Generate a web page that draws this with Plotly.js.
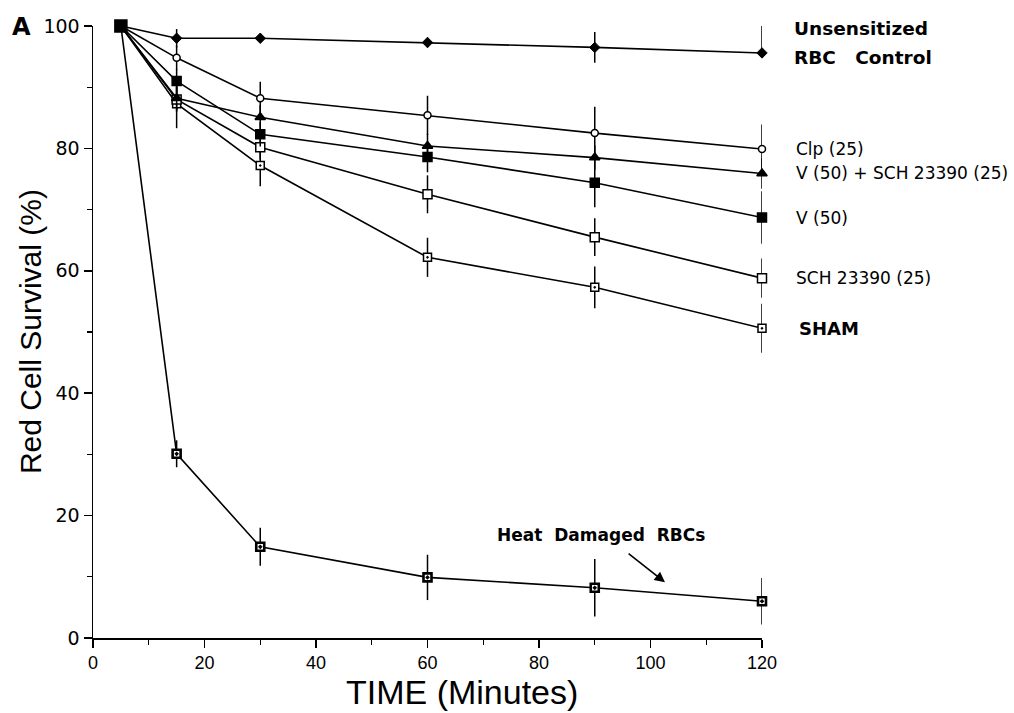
<!DOCTYPE html>
<html>
<head>
<meta charset="utf-8">
<script src="https://cdn.plot.ly/plotly-3.0.1.min.js"></script>
<style>html,body{margin:0;padding:0;background:#fff;}#chart{width:1014px;height:713px;}</style>
</head>
<body>
<div id="chart"></div>
<script>
// ---- data ----
const time = [5, 15, 30, 60, 90, 120];
const unsensitized = [100, 98.0, 98.0, 97.3, 96.5, 95.6];
const clp25 = [100, 94.8, 88.2, 85.4, 82.5, 79.9];
const v50sch25 = [100, 88.2, 85.1, 80.4, 78.5, 75.9];
const v50 = [100, 91.0, 82.3, 78.6, 74.4, 68.7];
const sch25 = [100, 88.0, 80.2, 72.5, 65.5, 58.8];
const sham = [100, 87.3, 77.2, 62.2, 57.3, 50.6];
const heatDamaged = [100, 30.1, 14.9, 9.9, 8.2, 6.0];

const unsensErrPlus = [0, 1.5, 0, 0.8, 2.5, 4.8];
const unsensErrMinus = [0, 1.5, 0, 0.8, 2.5, 0];
const clpErr = [0, 2, 2.7, 3.2, 4.3, 4.0];
const vschErr = [0, 2, 2, 2, 2, 2.5];
const v50Err = [0, 2, 2, 2.5, 4, 4.3];
const schErr = [0, 2, 2, 3.1, 3.1, 3.2];
const shamErr = [0, 4, 3.4, 3.2, 3.4, 4.0];
const heatErr = [0, 2.2, 3.1, 3.7, 4.7, 3.8];

const seriesLabels = ["Unsensitized", "RBC   Control", "Clp (25)", "V (50) + SCH 23390 (25)", "V (50)", "SCH 23390 (25)", "SHAM"];
const xTicks = [0, 20, 40, 60, 80, 100, 120];
const yTicks = [0, 20, 40, 60, 80, 100];

// ---- traces ----
function tr(y, errPlus, errMinus, symbol, size, fill, lw) {
  return {
    x: time, y: y, type: 'scatter', mode: 'lines+markers', cliponaxis: false,
    line: {color: '#000', width: 1.6},
    marker: {symbol: symbol, size: size, color: fill, opacity: 1, line: {color: '#000', width: lw || 1.5}},
    error_y: {type: 'data', symmetric: errMinus ? false : true, array: errPlus, arrayminus: errMinus || undefined,
              color: '#000', thickness: 1.5, width: 0},
    showlegend: false, hoverinfo: 'x+y'
  };
}
const traces = [
  tr(heatDamaged, heatErr, null, 'square-dot', 8, '#fff', 2.6),
  tr(sham, shamErr, null, 'square-dot', 8, '#fff', 1.5),
  tr(sch25, schErr, null, 'square', 9, '#fff', 1.5),
  tr(v50, v50Err, null, 'square', [12, 9, 9, 9, 9, 9], '#000', 1.5),
  tr(v50sch25, vschErr, null, 'triangle-up', 9, '#000', 1.5),
  tr(clp25, clpErr, null, 'circle', 7, '#fff', 1.5),
  tr(unsensitized, unsensErrPlus, unsensErrMinus, 'diamond', 8, '#000', 1)
];

const labelY = [unsensitized[5], unsensitized[5], clp25[5], v50sch25[5], v50[5], sch25[5], sham[5]];
const labelShift = [[0, 24], [0, -5], [2, 0], [2, 0], [2, 0], [2, 0], [5, 0]];
const bold = [true, true, false, false, false, false, true];
const labelSize = [18.5, 18.5, 17, 17, 17, 17, 18];

const annotations = seriesLabels.map((t, i) => ({
  x: 120, y: labelY[i], xref: 'x', yref: 'y', text: bold[i] ? '<b>' + t + '</b>' : t,
  xanchor: 'left', yanchor: 'middle', align: 'left', showarrow: false,
  xshift: 30 + labelShift[i][0], yshift: labelShift[i][1],
  font: {family: 'DejaVu Sans, sans-serif', size: labelSize[i], color: '#000'}
}));
annotations.push({
  x: 91.2, y: 16.8, xref: 'x', yref: 'y', text: '<b>Heat  Damaged  RBCs</b>', showarrow: false,
  font: {family: 'DejaVu Sans, sans-serif', size: 17, color: '#000'}
});
annotations.push({
  x: 102.6, y: 9.1, xref: 'x', yref: 'y', ax: 95.8, ay: 14.0, axref: 'x', ayref: 'y',
  text: '', showarrow: true, arrowhead: 2, arrowsize: 1.3, arrowwidth: 1.6, arrowcolor: '#000'
});
annotations.push({
  x: -0.124, y: 0.998, xref: 'paper', yref: 'paper', xanchor: 'left', yanchor: 'middle',
  text: '<b>A</b>', showarrow: false, font: {family: 'DejaVu Sans, sans-serif', size: 24, color: '#000'}
});
// axis titles
annotations.push({
  x: 0.5516, y: -0.088, xref: 'paper', yref: 'paper', xanchor: 'center', yanchor: 'middle',
  text: 'TIME (Minutes)', showarrow: false, font: {family: 'Liberation Sans, sans-serif', size: 34, color: '#000'}
});
annotations.push({
  x: -0.094, y: 0.5, xref: 'paper', yref: 'paper', xanchor: 'center', yanchor: 'middle', textangle: -90,
  text: 'Red Cell Survival (%)', showarrow: false, font: {family: 'Liberation Sans, sans-serif', size: 30, color: '#000'}
});

const layout = {
  width: 1014, height: 713,
  margin: {l: 93, r: 252, t: 26, b: 75, pad: 0},
  paper_bgcolor: '#fff', plot_bgcolor: '#fff',
  xaxis: {
    range: [0, 120], tickvals: xTicks, ticktext: xTicks.map(String),
    showgrid: false, zeroline: false, showline: true, linecolor: '#000', linewidth: 1.5,
    ticks: 'outside', ticklen: 8, tickwidth: 1.5, tickcolor: '#000',
    minor: {dtick: 10, ticks: 'outside', ticklen: 5, tickwidth: 1.2, tickcolor: '#000', showgrid: false},
    tickfont: {family: 'Liberation Sans, sans-serif', size: 18, color: '#000'}
  },
  yaxis: {
    range: [0, 100], tickvals: yTicks, ticktext: yTicks.map(String),
    showgrid: false, zeroline: false, showline: true, linecolor: '#000', linewidth: 1.5,
    ticks: 'outside', ticklen: 8, tickwidth: 1.5, tickcolor: '#000',
    minor: {dtick: 10, ticks: 'outside', ticklen: 5, tickwidth: 1.2, tickcolor: '#000', showgrid: false},
    tickfont: {family: 'DejaVu Sans, sans-serif', size: 19, color: '#000'}
  },
  annotations: annotations
};

Plotly.newPlot('chart', traces, layout, {displayModeBar: false, staticPlot: true});
</script>
</body>
</html>
